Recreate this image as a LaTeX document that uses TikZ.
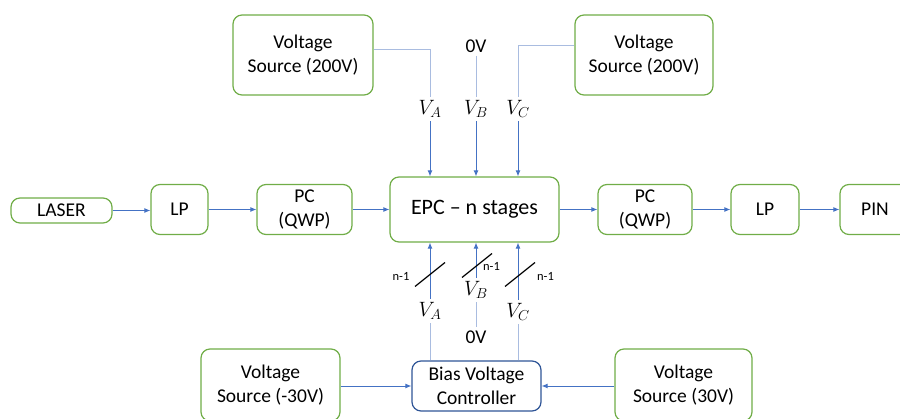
\documentclass[tikz,border=0pt]{standalone}
\usepackage{fontspec}
\setmainfont{Carlito}
\usepackage{tikz}
\usetikzlibrary{positioning,calc,arrows.meta}
\definecolor{boxgreen}{HTML}{70AD47}
\definecolor{wireblue}{HTML}{4472C4}
\definecolor{feedblue}{HTML}{A9BCE0}
\definecolor{ctrlblue}{HTML}{2F5597}

\begin{document}
\begin{tikzpicture}[x=1pt, y=-1pt,
  blk/.style={draw=boxgreen, line width=1.2pt, rounded corners=9pt, fill=white,
    align=center, inner sep=0pt, font=\fontsize{19.5}{24.5}\selectfont},
  sig/.style={draw=wireblue, line width=0.9pt, -{Latex[length=6pt,width=5pt]}},
  feed/.style={draw=feedblue, line width=1pt},
  vlab/.style={inner sep=3.5pt, font=\fontsize{19.5}{22}\selectfont},
  bus/.style={line width=1.2pt},
  nlab/.style={inner sep=0pt, font=\fontsize{12.5}{14}\selectfont}]
  \useasboundingbox (0,0) rectangle (900,419);
  \clip (0,0) rectangle (900,419);

  % Optical path
  \node[blk, minimum width=101, minimum height=25] (laser) at (61.5,210.5) {LASER};
  \node[blk, minimum width=57, minimum height=50] (lp1) at (179.5,209.5) {LP};
  \node[blk, minimum width=95, minimum height=50] (pc1) at (304.5,209.5) {PC\\(QWP)};
  \node[blk, minimum width=169, minimum height=65, font=\fontsize{22}{26}\selectfont] (epc) at (474.5,209.5) {EPC -- n stages};
  \node[blk, minimum width=94, minimum height=50] (pc2) at (645,209.5) {PC\\(QWP)};
  \node[blk, minimum width=68, minimum height=50] (lp2) at (765,209.5) {LP};
  \node[blk, minimum width=70, minimum height=50] (pin) at (875,209.5) {PIN};

  % Sources (top)
  \node[blk, minimum width=140, minimum height=80] (vsa) at (303,55) {Voltage\\Source (200V)};
  \node[blk, minimum width=138, minimum height=80] (vsc) at (644,55) {Voltage\\Source (200V)};

  % Sources and controller (bottom)
  \node[blk, minimum width=139, minimum height=72] (vsl) at (270.5,385) {Voltage\\Source (-30V)};
  \node[blk, minimum width=137, minimum height=72] (vsr) at (683.5,385) {Voltage\\Source (30V)};
  \node[blk, draw=ctrlblue, minimum width=129, minimum height=50] (bvc) at (476.5,386) {Bias Voltage\\Controller};

  % Voltage labels
  \node[vlab] (zvt) at (476,46) {0V};
  \node[vlab] (vat) at (430,109) {$V_A$};
  \node[vlab] (vbt) at (476,109) {$V_B$};
  \node[vlab] (vct) at (518,109) {$V_C$};
  \node[vlab] (vab) at (430,311) {$V_A$};
  \node[vlab] (vbb) at (476,290) {$V_B$};
  \node[vlab] (vcb) at (518,312) {$V_C$};
  \node[vlab] (zvb) at (476,337) {0V};
  \node[nlab] (nla) at (401,276) {n-1};
  \node[nlab] (nlb) at (491.5,266) {n-1};
  \node[nlab] (nlc) at (545.5,276) {n-1};

  % Optical links
  \foreach \a/\b in {laser/lp1, lp1/pc1, pc1/epc, epc/pc2, pc2/lp2, lp2/pin}
    \draw[sig] (\a.east) -- (\a.east -| \b.west);

  % Top feeds
  \draw[feed] ([yshift=5pt]vsa.east) -| (vat.north);
  \draw[feed] (zvt) -- (vbt);
  \draw[feed] ([yshift=9pt]vsc.west) -| (vct.north);
  \foreach \v in {vat,vbt,vct}
    \draw[sig] (\v.south) -- (\v.south |- epc.north);

  % Bias feeds
  \foreach \v in {vab,vbb,vcb}
    \draw[sig] (\v.north) -- (\v.north |- epc.south);
  \draw[feed] (bvc.north -| vab.south) -- (vab.south);
  \draw[feed] (bvc.north -| vcb.south) -- (vcb.south);
  \draw[feed] (zvb) -- (vbb);
  \draw[sig] (vsl.east |- bvc) -- (bvc.west);
  \draw[sig] (vsr.west |- bvc) -- (bvc.east);

  % Bus marks
  \foreach \x/\y in {430/274.5, 477/265.5, 520/274.5}
    \draw[bus] (\x-15,\y+12) -- (\x+15,\y-12);
\end{tikzpicture}
\end{document}
